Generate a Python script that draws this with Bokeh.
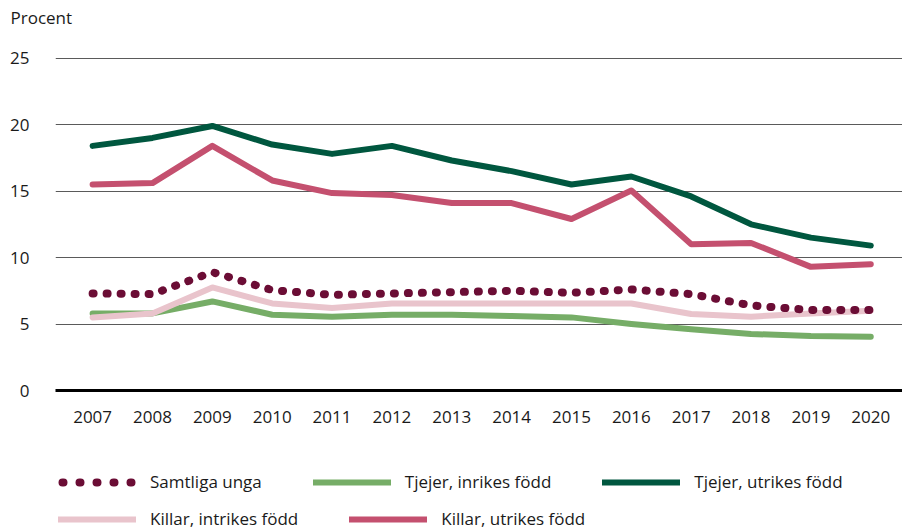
from bokeh.plotting import figure
from bokeh.layouts import column
from bokeh.models import Range1d, Legend, LegendItem, FixedTicker, ColumnDataSource, Label
from bokeh.embed import file_html
from bokeh.resources import INLINE

years = list(range(2007, 2021))
samtliga = [7.3, 7.25, 8.9, 7.55, 7.2, 7.3, 7.4, 7.5, 7.35, 7.6, 7.25, 6.4, 6.05, 6.05]
tjejer_inrikes = [5.8, 5.8, 6.7, 5.7, 5.55, 5.7, 5.7, 5.6, 5.5, 5.0, 4.6, 4.25, 4.1, 4.05]
tjejer_utrikes = [18.4, 19.0, 19.9, 18.5, 17.8, 18.4, 17.3, 16.5, 15.5, 16.1, 14.6, 12.5, 11.5, 10.9]
killar_inrikes = [5.5, 5.8, 7.75, 6.55, 6.2, 6.55, 6.55, 6.55, 6.55, 6.55, 5.75, 5.55, 5.8, 6.0]
killar_utrikes = [15.5, 15.6, 18.4, 15.8, 14.85, 14.7, 14.1, 14.1, 12.9, 15.05, 11.0, 11.1, 9.3, 9.5]
y_ticks = [0, 5, 10, 15, 20, 25]

FONT = "Open Sans"
FS = "17px"
TXT = "#1a1a1a"
C_S, C_TI, C_TU, C_KI, C_KU = "#6B0D35", "#76AD67", "#00573F", "#E9C4CC", "#C4506F"

# header strip with the unit label
ph = figure(width=902, height=30, output_backend="svg", toolbar_location=None,
            x_range=Range1d(0, 1), y_range=Range1d(0, 1), frame_align=False,
            min_border_left=0, min_border_right=0, min_border_top=0, min_border_bottom=0)
ph.axis.visible = False
ph.grid.visible = False
ph.outline_line_color = None
ph.add_layout(Label(x=10, y=13, x_units="screen", y_units="screen", text="Procent",
                    text_font=FONT, text_font_size=FS, text_color=TXT, text_baseline="middle"))

p = figure(width=902, height=410, output_backend="svg", toolbar_location=None,
           x_range=Range1d(2006.38, 2020.53), y_range=Range1d(0, 25.05), frame_align=False,
           min_border_left=55, min_border_right=0, min_border_top=27, min_border_bottom=50)
p.outline_line_color = None

p.xgrid.visible = False
p.ygrid.ticker = FixedTicker(ticks=y_ticks)
p.ygrid.grid_line_color = "#5a5a5a"
p.ygrid.grid_line_width = 1

p.yaxis.ticker = FixedTicker(ticks=y_ticks)
p.yaxis.axis_line_color = None
p.yaxis.major_tick_line_color = None
p.yaxis.major_tick_out = 0
p.yaxis.minor_tick_line_color = None
p.yaxis.major_label_text_font = FONT
p.yaxis.major_label_text_font_size = FS
p.yaxis.major_label_text_color = TXT
p.yaxis.major_label_standoff = 26

p.xaxis.ticker = FixedTicker(ticks=years)
p.xaxis.axis_line_color = "black"
p.xaxis.axis_line_width = 3
p.xaxis.major_tick_line_color = None
p.xaxis.major_tick_out = 0
p.xaxis.minor_tick_line_color = None
p.xaxis.major_label_text_font = FONT
p.xaxis.major_label_text_font_size = FS
p.xaxis.major_label_text_color = TXT
p.xaxis.major_label_standoff = 20

src = ColumnDataSource(dict(x=years, s=samtliga, ti=tjejer_inrikes, tu=tjejer_utrikes,
                            ki=killar_inrikes, ku=killar_utrikes))

p.line("x", "ti", source=src, line_color=C_TI, line_width=6, line_cap="round", line_join="round")
p.line("x", "ki", source=src, line_color=C_KI, line_width=6, line_cap="round", line_join="round")
p.line("x", "tu", source=src, line_color=C_TU, line_width=6, line_cap="round", line_join="round")
p.line("x", "ku", source=src, line_color=C_KU, line_width=6, line_cap="round", line_join="round")
p.line("x", "s", source=src, line_color=C_S, line_width=8, line_cap="round", line_dash="1 13")

# legend strip below the chart (its renderers lie outside its visible range)
pl = figure(width=902, height=89, output_backend="svg", toolbar_location=None,
            x_range=Range1d(0, 1), y_range=Range1d(0, 1), frame_align=False,
            min_border_left=0, min_border_right=0, min_border_top=0, min_border_bottom=0)
pl.axis.visible = False
pl.grid.visible = False
pl.outline_line_color = None

l_s = pl.line("x", "s", source=src, line_color=C_S, line_width=8, line_cap="round",
              line_dash="1 16", line_dash_offset=-4)
l_ti = pl.line("x", "ti", source=src, line_color=C_TI, line_width=6, line_cap="round")
l_tu = pl.line("x", "tu", source=src, line_color=C_TU, line_width=6, line_cap="round")
l_ki = pl.line("x", "ki", source=src, line_color=C_KI, line_width=6, line_cap="round")
l_ku = pl.line("x", "ku", source=src, line_color=C_KU, line_width=6, line_cap="round")

def mk_legend(items, loc):
    return Legend(items=items, orientation="horizontal", location=loc,
                  glyph_width=78, glyph_height=22, label_standoff=14, spacing=51,
                  label_text_font=FONT, label_text_font_size=FS, label_text_color=TXT,
                  border_line_alpha=0, background_fill_alpha=0, padding=0, margin=0)

leg1 = mk_legend([LegendItem(label="Samtliga unga", renderers=[l_s]),
                  LegendItem(label="Tjejer, inrikes född", renderers=[l_ti]),
                  LegendItem(label="Tjejer, utrikes född", renderers=[l_tu])], (58, 36))
leg2 = mk_legend([LegendItem(label="Killar, intrikes född", renderers=[l_ki]),
                  LegendItem(label="Killar, utrikes född", renderers=[l_ku])], (58, -1))
pl.add_layout(leg1, "center")
pl.add_layout(leg2, "center")

layout = column(ph, p, pl, spacing=0)
open("out.html", "w").write(file_html(layout, INLINE))
